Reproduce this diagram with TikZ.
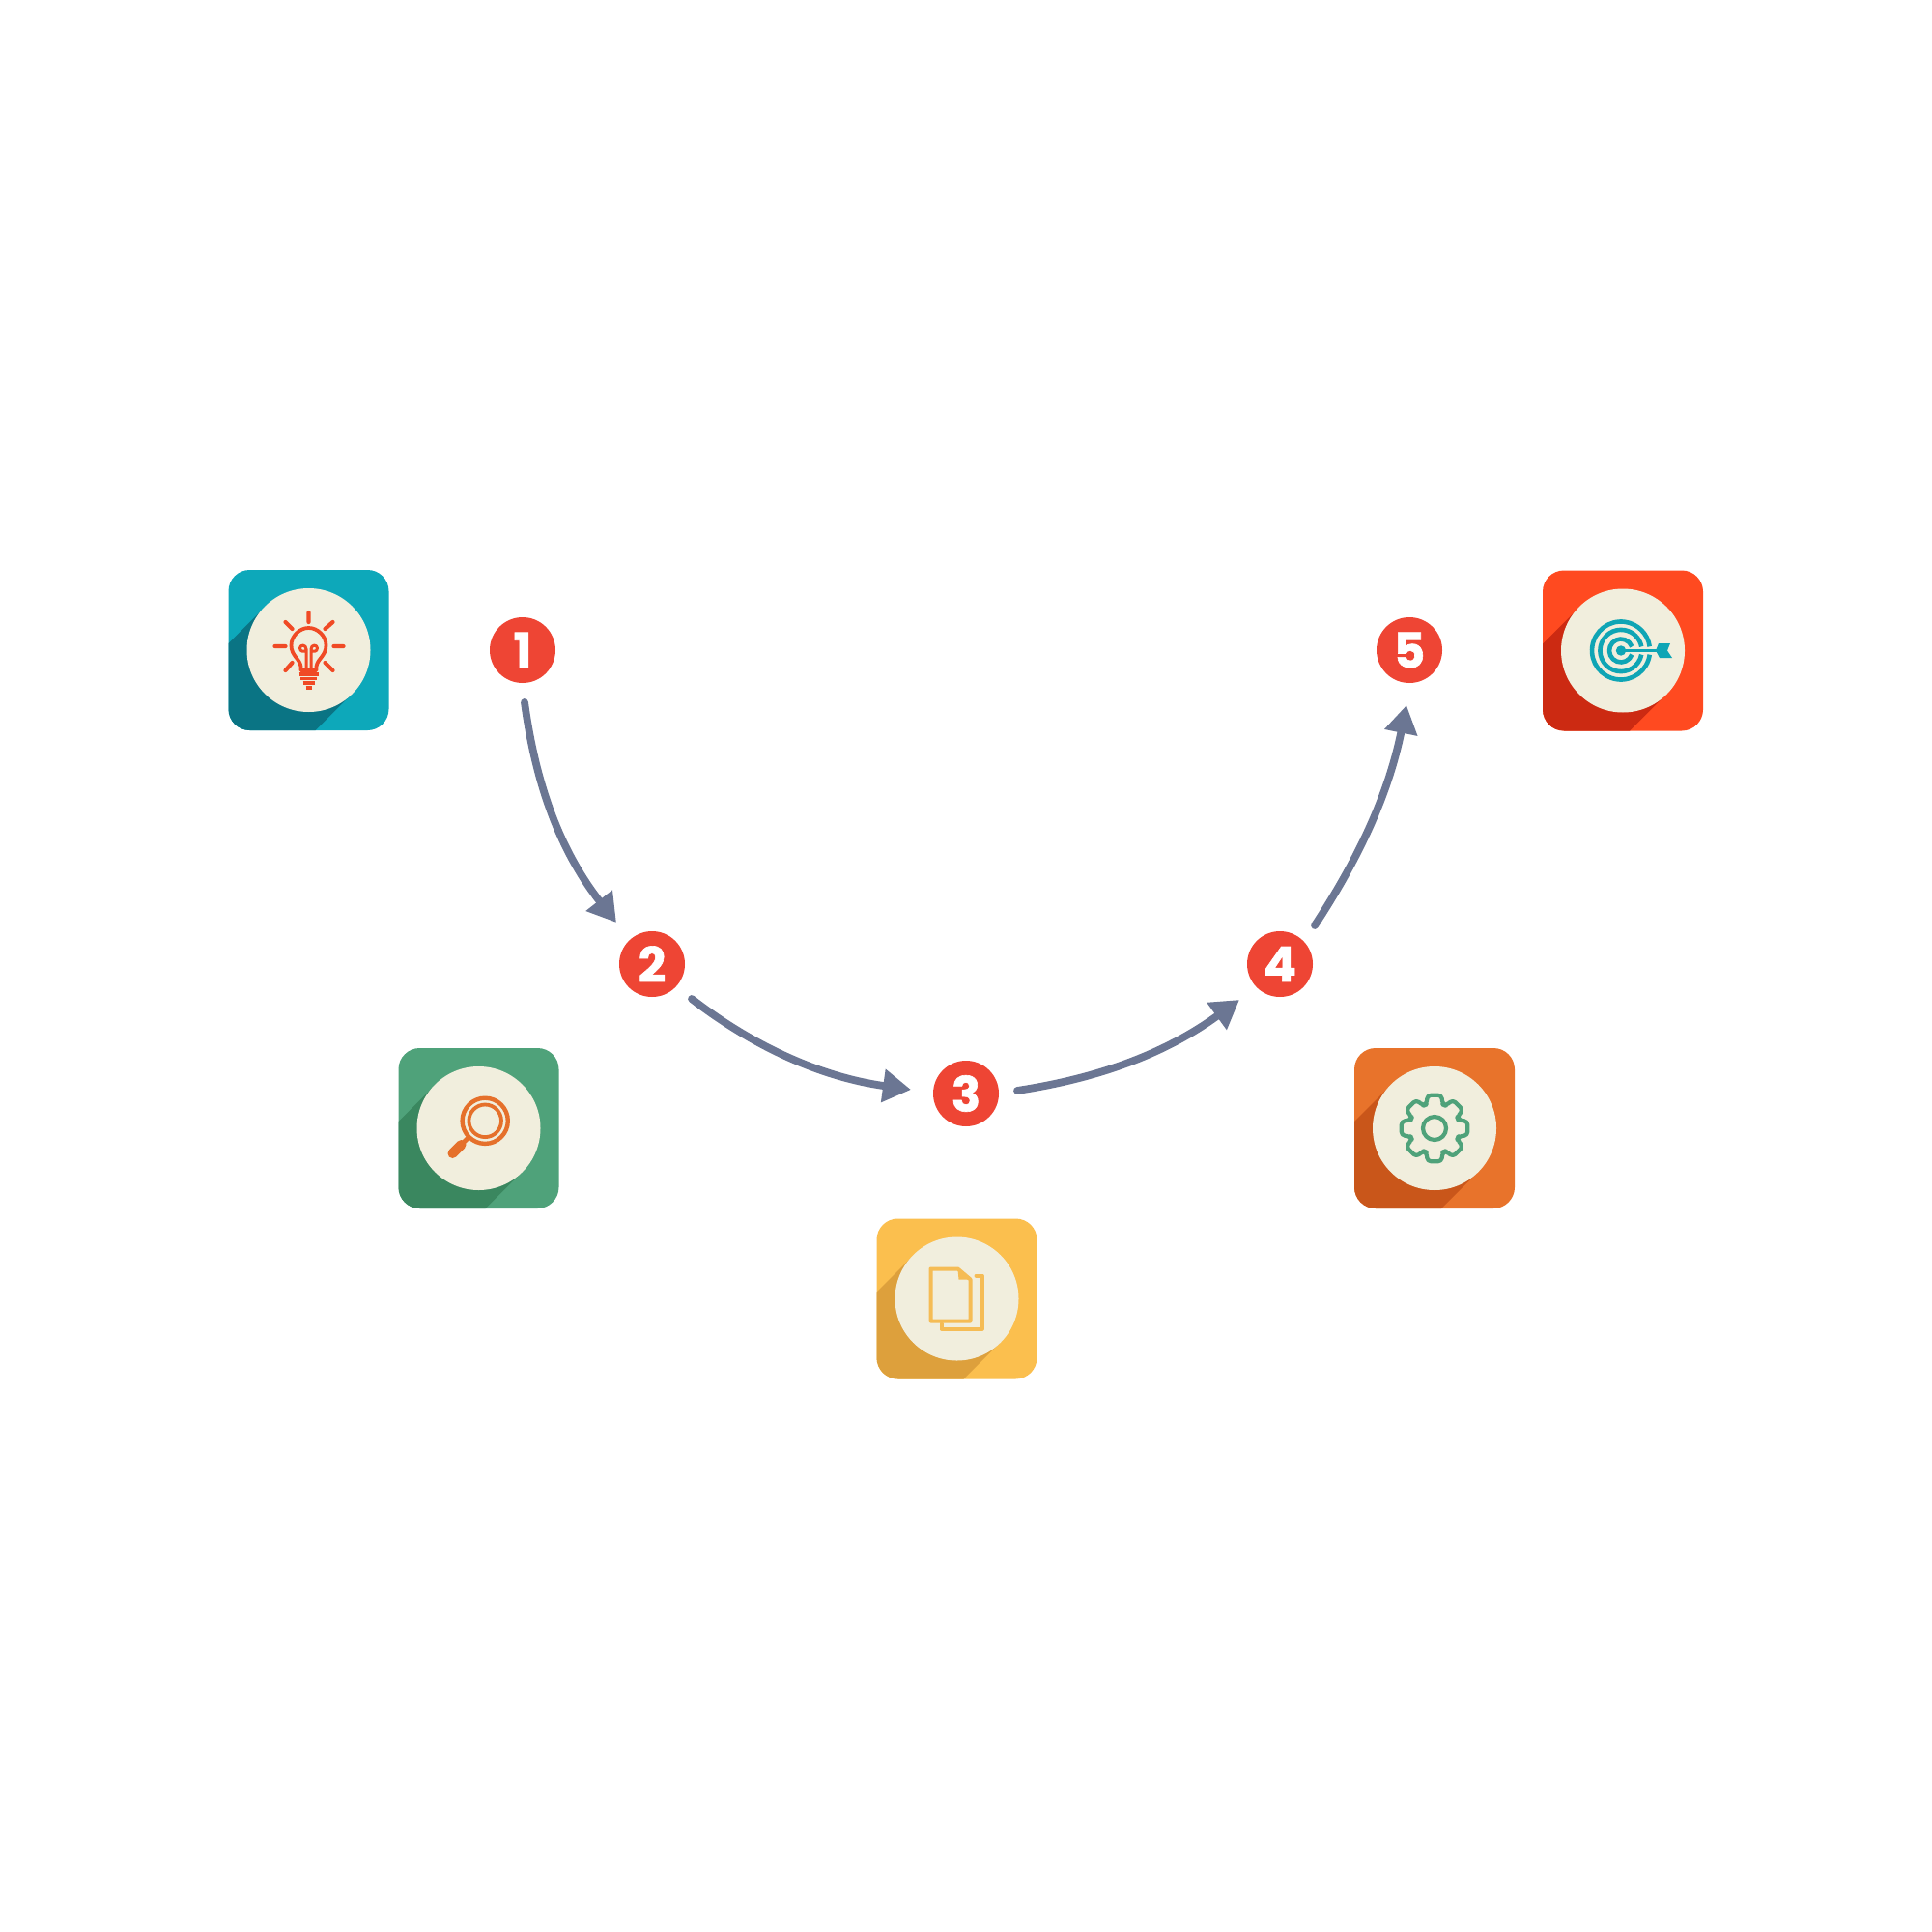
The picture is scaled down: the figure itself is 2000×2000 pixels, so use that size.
\documentclass[tikz,border=0pt]{standalone}
\usepackage{fontspec}
\setmainfont{Poppins}
\newfontfamily\badgefont[BoldFeatures={FakeBold=1.2}]{Poppins}
\usetikzlibrary{arrows.meta}
\definecolor{arrowc}{HTML}{6B7693}
\definecolor{badgec}{HTML}{EE4534}
\definecolor{creamc}{HTML}{F1EEDD}
\definecolor{tealc}{HTML}{0DA8BA}\definecolor{teald}{HTML}{0A7484}
\definecolor{greenc}{HTML}{4FA27A}\definecolor{greend}{HTML}{3A875F}
\definecolor{yellowc}{HTML}{FBBF4E}\definecolor{yellowd}{HTML}{DDA03C}
\definecolor{orangec}{HTML}{E8732B}\definecolor{oranged}{HTML}{C9561A}
\definecolor{redc}{HTML}{FF4A20}\definecolor{redd}{HTML}{CC2A12}
\definecolor{bulbc}{HTML}{F04A25}
\definecolor{lensc}{HTML}{E5702B}
\definecolor{pagec}{HTML}{F5BC55}
\definecolor{targetc}{HTML}{0FA5B5}
\tikzset{
  badge/.style={circle,fill=badgec,minimum size=34pt,inner sep=0pt,text=white,font=\badgefont\fontsize{25}{25}\selectfont\bfseries},
  tile/.style={rectangle,rounded corners=11pt,minimum size=83pt,inner sep=0pt},
  disc/.style={circle,fill=creamc,minimum size=64pt,inner sep=0pt},
  flow/.style={draw=arrowc,line width=3.9pt,line cap=round,-{Triangle[length=14.5pt,width=16.5pt,sharp]}},
  glyph/.style={line width=1.9pt,line cap=round,line join=round},
}
% #1 name, #2 position, #3 light, #4 dark
\newcommand{\icontile}[4]{%
  \node[tile,fill=#3] (#1) at (#2) {};
  \begin{scope}
    \clip[rounded corners=11pt] ([shift={(-83,-83)}]#2) rectangle ([shift={(83,83)}]#2);
    \fill[#4] ([shift={(-45,-45)}]#2) -- ([shift={(-245,155)}]#2) -- ([shift={(-155,245)}]#2) -- ([shift={(45,45)}]#2) -- cycle;
  \end{scope}
  \node[disc] (#1c) at (#2) {};
}
\begin{document}
\begin{tikzpicture}[x=0.5pt,y=-0.5pt]
\useasboundingbox (0,0) rectangle (2000,2000);
\fill[white] (0,0) rectangle (2000,2000);

\icontile{i1}{319.5,673}{tealc}{teald}
\icontile{i2}{495.5,1168}{greenc}{greend}
\icontile{i3}{990.5,1344.5}{yellowc}{yellowd}
\icontile{i4}{1485,1168}{orangec}{oranged}
\icontile{i5}{1680,673.5}{redc}{redd}

% bulb
\begin{scope}[shift={(i1c.center)},glyph,draw=bulbc]
  \draw[line width=2.1pt] (0,-39)--(0,-29) (26,-4)--(36,-4) (-24,-4)--(-35,-4)
    (-24,-29)--(-17,-22) (25,-29)--(17,-22) (-24,21)--(-17,13) (25,21)--(17,13);
  \draw (-8,21) -- (-8,17) .. controls (-9,9) and (-18,6) .. (-18,-5)
    .. controls (-18,-15) and (-9,-23) .. (0,-23)
    .. controls (9,-23) and (18,-15) .. (18,-5)
    .. controls (18,6) and (9,9) .. (8,17) -- (8,21) -- cycle;
  \draw[line width=1.5pt] (-2.5,20) -- (-2.5,-1) .. controls (-2.5,-6) and (-9,-6) .. (-9,-2) .. controls (-9,2) and (-4,2) .. (-2.5,0)
    (2.5,20) -- (2.5,-1) .. controls (2.5,-6) and (9,-6) .. (9,-2) .. controls (9,2) and (4,2) .. (2.5,0);
  \draw[line width=1.7pt,line cap=butt] (-10,25)--(10,25) (-8.5,29.5)--(8.5,29.5) (-6,34)--(6,34) (-3,39)--(3,39);
\end{scope}

% magnifier
\begin{scope}[shift={(i2c.center)},glyph,draw=lensc]
  \draw[line width=2.2pt] (6.7,-7.7) circle[radius=11.8pt];
  \draw[line width=1.9pt] (6.7,-7.7) circle[radius=8.4pt];
  \draw[line width=2.4pt] (-11,10)--(-20,19);
  \draw[line width=5pt] (-18,17)--(-27,26);
\end{scope}

% pages
\begin{scope}[shift={(i3c.center)},glyph,line width=2pt,draw=pagec]
  \draw (1,-31) -- (-27,-31) -- (-27,23) -- (14,23) -- (14,-20) -- (1,-31);
  \fill[pagec] (1,-31) -- (14,-20) -- (2,-20) -- cycle;
  \draw (-16,26) -- (-16,31) -- (26,31) -- (26,-24) -- (20,-24);
\end{scope}

% gear
\begin{scope}[shift={(i4c.center)},glyph,draw=greenc]
  \draw[line width=2.1pt] (0,0) circle[radius=6pt];
  \draw[line width=2.1pt,rounded corners=1.8pt] (-19:26)
    \foreach \a in {0,45,...,315}{ -- (\a-19:26) -- (\a-12:35) -- (\a+12:35) -- (\a+19:26) } -- cycle;
\end{scope}

% target
\begin{scope}[shift={(i5c.center)},glyph,draw=targetc,line cap=butt]
  \foreach \r/\g in {15/8,10.8/11,6/20}{
    \draw[line width=2.3pt] ({-2+2*\r*cos(\g)},{2*\r*sin(\g)}) arc[start angle=-\g,end angle={-360+\g},radius=\r pt];
  }
  \fill[targetc] (-2,0) circle[radius=2.6pt];
  \draw[line width=1.9pt] (-2,0) -- (36,0);
  \fill[targetc] (34,0) -- (37,-7.5) -- (49,-7.5) -- (46,0) -- (51,7.5) -- (38,7.5) -- cycle;
\end{scope}

\node[badge] (b1) at (541,673) {1};
\node[badge] (b2) at (675,998) {2};
\node[badge] (b3) at (1000,1132) {3};
\node[badge] (b4) at (1325,998) {4};
\node[badge] (b5) at (1459,673) {5};

% free ends of the connectors, set off from their badges
\path (b1) ++(2,54) coordinate (out1);
\path (b2) ++(-37,-43) coordinate (in2);
\path (b2) ++(41,36) coordinate (out2);
\path (b3) ++(-57,-4) coordinate (in3);
\path (b3) ++(53,-3) coordinate (out3);
\path (b4) ++(-42,37) coordinate (in4);
\path (b4) ++(36,-40) coordinate (out4);
\path (b5) ++(-3,57) coordinate (in5);

\draw[flow] (out1) .. controls (553,800) and (574.4,873.7) .. (in2);
\draw[flow] (out2) .. controls (773,1078) and (843,1114) .. (in3);
\draw[flow] (out3) .. controls (1125,1118) and (1199,1096) .. (in4);
\draw[flow] (out4) .. controls (1401,897) and (1436,829) .. (in5);
\end{tikzpicture}
\end{document}
